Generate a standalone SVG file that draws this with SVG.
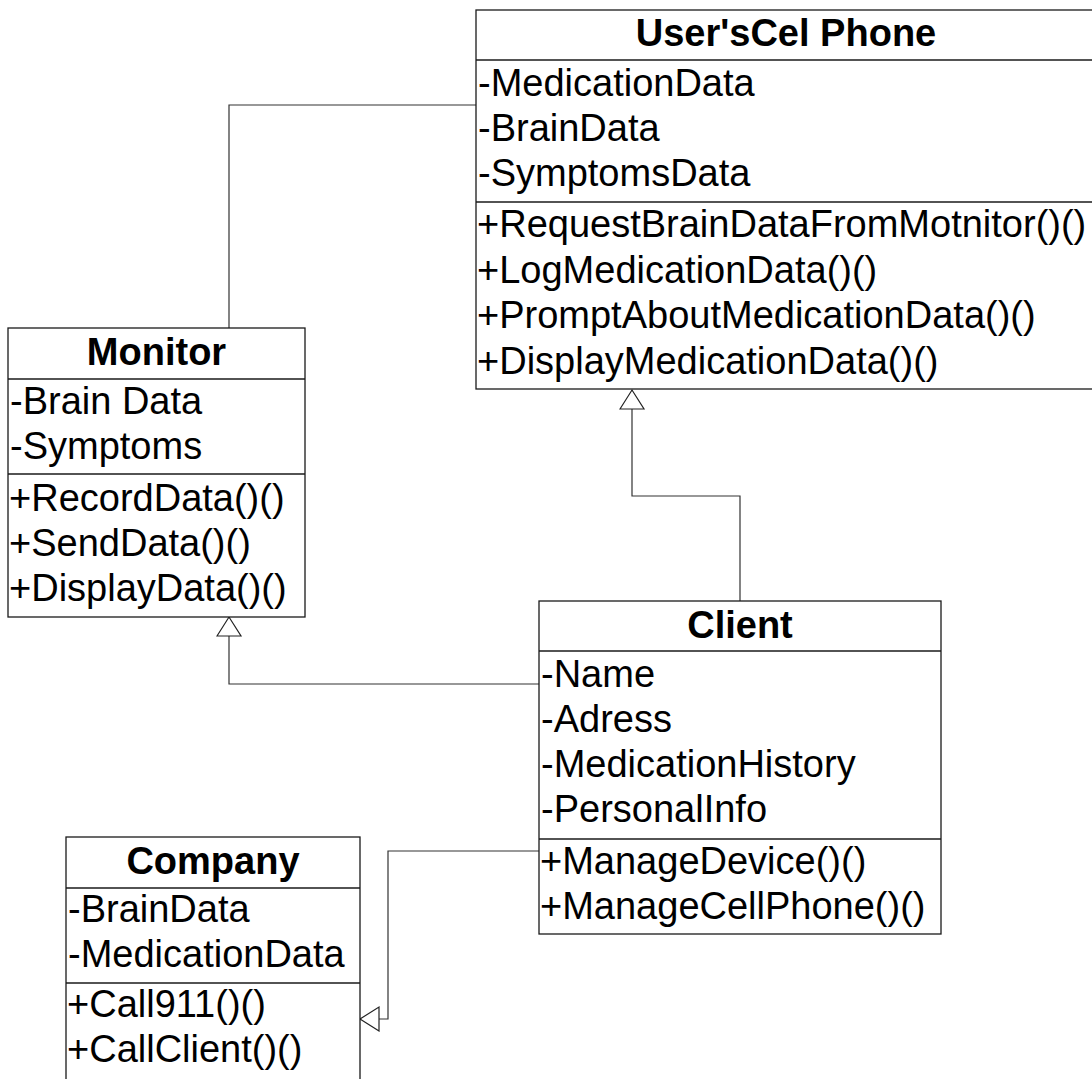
<svg xmlns="http://www.w3.org/2000/svg" width="1092" height="1079" viewBox="0 0 1092 1079">
<style>
.box{fill:#fff;stroke:#1a1a1a;stroke-width:1.3}
.div{stroke:#1a1a1a;stroke-width:1.3}
.t{font-family:"Liberation Sans",Arial,sans-serif;font-size:38px;fill:#000}
.h{font-family:"Liberation Sans",Arial,sans-serif;font-size:38px;font-weight:bold;fill:#000;text-anchor:middle}
.c{fill:none;stroke:#333;stroke-width:1.2}
</style>
<defs>
<marker id="tri" markerUnits="userSpaceOnUse" markerWidth="22" markerHeight="28" refX="19" refY="12" orient="auto" viewBox="-1 -1 22 28">
<path d="M0,0 L19,12 L0,24 Z" fill="#fff" stroke="#222" stroke-width="1.2"/>
</marker>
</defs>
<rect width="1092" height="1079" fill="#fff"/>
<g id="connectors">
<path class="c" d="M229,328 V105 H476"/>
<path class="c" d="M740,601 V496 H632 V390" marker-end="url(#tri)"/>
<path class="c" d="M539,684 H229 V617" marker-end="url(#tri)"/>
<path class="c" d="M539,851 H388 V1019 H360" marker-end="url(#tri)"/>
</g>
<g id="phone">
<rect class="box" x="476" y="10" width="620" height="379"/>
<line class="div" x1="476" y1="60" x2="1096" y2="60"/>
<line class="div" x1="476" y1="202" x2="1096" y2="202"/>
<text class="h" x="786" y="46">User'sCel Phone</text>
<text class="t" x="478" y="96">-MedicationData</text>
<text class="t" x="478" y="141">-BrainData</text>
<text class="t" x="478" y="186">-SymptomsData</text>
<text class="t" x="477" y="237">+RequestBrainDataFromMotnitor()()</text>
<text class="t" x="477" y="283">+LogMedicationData()()</text>
<text class="t" x="477" y="328">+PromptAboutMedicationData()()</text>
<text class="t" x="477" y="374">+DisplayMedicationData()()</text>
</g>
<g id="monitor">
<rect class="box" x="8" y="328" width="297" height="289"/>
<line class="div" x1="8" y1="379" x2="305" y2="379"/>
<line class="div" x1="8" y1="474" x2="305" y2="474"/>
<text class="h" x="156.5" y="365">Monitor</text>
<text class="t" x="10" y="414">-Brain Data</text>
<text class="t" x="10" y="459">-Symptoms</text>
<text class="t" x="9" y="511">+RecordData()()</text>
<text class="t" x="9" y="556">+SendData()()</text>
<text class="t" x="9" y="601">+DisplayData()()</text>
</g>
<g id="client">
<rect class="box" x="539" y="601" width="402" height="333"/>
<line class="div" x1="539" y1="651" x2="941" y2="651"/>
<line class="div" x1="539" y1="839" x2="941" y2="839"/>
<text class="h" x="740" y="638">Client</text>
<text class="t" x="541" y="687">-Name</text>
<text class="t" x="541" y="732">-Adress</text>
<text class="t" x="541" y="777">-MedicationHistory</text>
<text class="t" x="541" y="822">-PersonalInfo</text>
<text class="t" x="540" y="874">+ManageDevice()()</text>
<text class="t" x="540" y="919">+ManageCellPhone()()</text>
</g>
<g id="company">
<rect class="box" x="66" y="837" width="294" height="250"/>
<line class="div" x1="66" y1="888" x2="360" y2="888"/>
<line class="div" x1="66" y1="983" x2="360" y2="983"/>
<text class="h" x="213" y="874">Company</text>
<text class="t" x="68" y="922">-BrainData</text>
<text class="t" x="68" y="967">-MedicationData</text>
<text class="t" x="67" y="1017">+Call911()()</text>
<text class="t" x="67" y="1062">+CallClient()()</text>
</g>
</svg>
